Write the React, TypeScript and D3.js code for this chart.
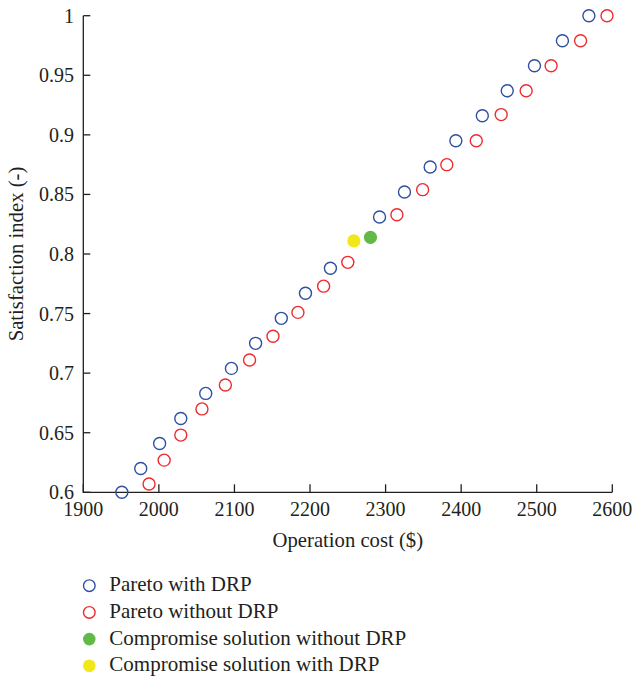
import React from "react";
import * as d3 from "d3";

const withDrpCost = [1951, 1976, 2001, 2029, 2062, 2096, 2128, 2162, 2194, 2227, 2292, 2325, 2359, 2393, 2428, 2461, 2497, 2534, 2569];
const withDrpIndex = [0.6, 0.62, 0.641, 0.662, 0.683, 0.704, 0.725, 0.746, 0.767, 0.788, 0.831, 0.852, 0.873, 0.895, 0.916, 0.937, 0.958, 0.979, 1.0];
const withoutDrpCost = [1987, 2007, 2029, 2057, 2088, 2120, 2151, 2184, 2218, 2250, 2315, 2349, 2381, 2420, 2453, 2486, 2519, 2558, 2593];
const withoutDrpIndex = [0.607, 0.627, 0.648, 0.67, 0.69, 0.711, 0.731, 0.751, 0.773, 0.793, 0.833, 0.854, 0.875, 0.895, 0.917, 0.937, 0.958, 0.979, 1.0];
const compromiseWithoutDrp = [2280, 0.814];
const compromiseWithDrp = [2258, 0.811];

const xTicks = [1900, 2000, 2100, 2200, 2300, 2400, 2500, 2600];
const yTicks = [0.6, 0.65, 0.7, 0.75, 0.8, 0.85, 0.9, 0.95, 1];
const legendLabels = [
  "Pareto with DRP",
  "Pareto without DRP",
  "Compromise solution without DRP",
  "Compromise solution with DRP",
];

const BLUE = "#2f4fa2";
const RED = "#ee2b2f";
const GREEN = "#62b946";
const YELLOW = "#f2e71a";
const TEXT = "#231f20";
const FONT = "'Liberation Serif', 'Times New Roman', serif";

export default function App() {
  const x = d3.scaleLinear().domain([1900, 2600]).range([83.3, 612.3]);
  const y = d3.scaleLinear().domain([0.6, 1]).range([492.3, 15.7]);
  const fmtY = (v: number) => String(+v.toFixed(2));

  const blue = withDrpCost.map((c, i) => [c, withDrpIndex[i]]);
  const red = withoutDrpCost.map((c, i) => [c, withoutDrpIndex[i]]);

  const legendStyles = [
    { stroke: BLUE, fill: "none" },
    { stroke: RED, fill: "none" },
    { stroke: "none", fill: GREEN },
    { stroke: "none", fill: YELLOW },
  ];

  return (
    <svg
      width={633}
      height={678}
      style={{ position: "absolute", left: 0, top: 0, background: "#fff", fontFamily: FONT }}
    >
      <rect width={633} height={678} fill="#fff" />
      {/* axes */}
      <path
        d={`M${x(1900)},${y(1)} V${y(0.6)} H${x(2600)}`}
        fill="none"
        stroke={TEXT}
        strokeWidth={1.3}
      />
      {xTicks.map((t) => (
        <g key={"xt" + t}>
          <line x1={x(t)} x2={x(t)} y1={y(0.6)} y2={y(0.6) - 8} stroke={TEXT} strokeWidth={1.3} />
          <text x={x(t)} y={516} textAnchor="middle" fontSize={20} fill={TEXT}>
            {t}
          </text>
        </g>
      ))}
      {yTicks.map((t) => (
        <g key={"yt" + t}>
          <line x1={x(1900)} x2={x(1900) + 7} y1={y(t)} y2={y(t)} stroke={TEXT} strokeWidth={1.3} />
          <text x={74} y={y(t)} dy="0.35em" textAnchor="end" fontSize={20} fill={TEXT}>
            {fmtY(t)}
          </text>
        </g>
      ))}
      <text x={(x(1900) + x(2600)) / 2} y={547} textAnchor="middle" fontSize={20.7} fill={TEXT}>
        Operation cost ($)
      </text>
      <text
        transform={`translate(23,${(y(0.6) + y(1)) / 2}) rotate(-90)`}
        textAnchor="middle"
        fontSize={20.7}
        fill={TEXT}
      >
        Satisfaction index (-)
      </text>

      {/* points */}
      {blue.map((d, i) => (
        <circle key={"b" + i} cx={x(d[0])} cy={y(d[1])} r={6} fill="none" stroke={BLUE} strokeWidth={1.4} />
      ))}
      {red.map((d, i) => (
        <circle key={"r" + i} cx={x(d[0])} cy={y(d[1])} r={6} fill="none" stroke={RED} strokeWidth={1.4} />
      ))}
      <circle cx={x(compromiseWithoutDrp[0])} cy={y(compromiseWithoutDrp[1])} r={6.6} fill={GREEN} />
      <circle cx={x(compromiseWithDrp[0])} cy={y(compromiseWithDrp[1])} r={6.6} fill={YELLOW} />

      {/* legend */}
      {legendLabels.map((lab, i) => {
        const cy = 585.7 + i * 26.7;
        const s = legendStyles[i];
        return (
          <g key={"lg" + i}>
            <circle
              cx={89.3}
              cy={cy}
              r={s.fill === "none" ? 5.8 : 6.3}
              fill={s.fill}
              stroke={s.stroke}
              strokeWidth={1.4}
            />
            <text x={109.3} y={cy + 5.5} fontSize={21} fill={TEXT}>
              {lab}
            </text>
          </g>
        );
      })}
    </svg>
  );
}
